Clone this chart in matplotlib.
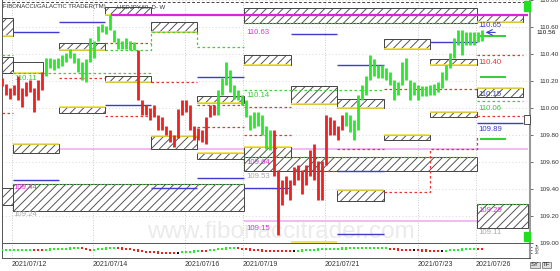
import matplotlib
matplotlib.use('Agg')
import matplotlib.pyplot as plt
from matplotlib.patches import Rectangle

plt.rcParams['font.family'] = ['Liberation Sans', 'DejaVu Sans']
plt.rcParams['hatch.linewidth'] = 0.7
plt.rcParams['hatch.color'] = '#555555'

# ---------------- data ----------------
bar_hi = [110.22, 110.18, 110.15, 110.17, 110.24, 110.15, 110.19, 110.21, 110.15, 110.21, 110.27,
          110.37, 110.37, 110.36, 110.37, 110.39, 110.41, 110.44, 110.41, 110.37, 110.34, 110.36, 110.52,
          110.50, 110.61, 110.62, 110.61, 110.69, 110.58, 110.52, 110.50, 110.52, 110.50, 110.49,
          110.43, 110.06, 110.02, 110.00, 110.02, 109.95, 109.93, 109.87, 109.84, 109.80, 109.99, 110.06,
          110.06, 110.02, 109.87, 109.85, 109.84, 109.93, 110.02, 110.02,
          110.13, 110.22, 110.34, 110.28, 110.17, 110.13, 110.10, 110.06, 109.95, 109.97, 109.97, 109.95,
          109.87, 109.84,
          109.84, 109.54, 109.47, 109.50, 109.47, 109.56, 109.58, 109.54, 109.58, 109.69, 109.73, 109.61,
          109.61, 109.95, 109.93, 109.91, 109.87, 109.95,
          109.97, 109.95, 109.91, 110.10, 110.17, 110.24, 110.39, 110.36, 110.32, 110.32, 110.30, 110.27,
          110.21, 110.19, 110.34, 110.37, 110.21, 110.19, 110.17, 110.16, 110.16, 110.17, 110.18, 110.19,
          110.27, 110.32, 110.41, 110.52, 110.58, 110.58, 110.56, 110.56, 110.56, 110.56, 110.58]
bar_lo = [110.16, 110.10, 110.07, 110.10, 110.06, 110.01, 110.09, 110.12, 109.97, 110.06, 110.13,
          110.24, 110.30, 110.28, 110.30, 110.31, 110.34, 110.37, 110.33, 110.27, 110.21, 110.19, 110.34,
          110.37, 110.50, 110.56, 110.55, 110.58, 110.49, 110.44, 110.44, 110.44, 110.43, 110.43,
          110.06, 109.95, 109.95, 109.91, 109.93, 109.84, 109.84, 109.80, 109.75, 109.71, 109.78, 109.95,
          109.97, 109.84, 109.76, 109.76, 109.75, 109.73, 109.93, 109.95,
          109.95, 110.10, 110.17, 110.12, 110.07, 110.06, 110.02, 109.93, 109.84, 109.85, 109.87, 109.80,
          109.70, 109.69,
          109.50, 109.06, 109.28, 109.36, 109.32, 109.43, 109.47, 109.36, 109.43, 109.50, 109.47, 109.32,
          109.32, 109.58, 109.80, 109.80, 109.76, 109.84,
          109.87, 109.82, 109.76, 109.84, 110.06, 110.10, 110.21, 110.24, 110.22, 110.22, 110.21, 110.17,
          110.06, 110.10, 110.17, 110.21, 110.06, 110.10, 110.06, 110.09, 110.09, 110.10, 110.10, 110.12,
          110.15, 110.21, 110.30, 110.37, 110.47, 110.39, 110.47, 110.47, 110.47, 110.49, 110.50]
trend_runs = [('r', 11), ('g', 23), ('r', 20), ('g', 14), ('r', 18), ('g', 35)]

ind_vals = [50, 50, 50, 50, 50, 50, 50, 50, 50, 50, 50,
            52, 54, 55, 57, 58, 60, 62, 64, 66, 65, 56, 50,
            52, 55, 58, 62, 66, 67, 66, 62, 58, 55, 50,
            45, 40, 36, 33, 30, 28, 27, 26, 25, 25, 26,
            30, 33, 36, 38, 40, 42, 44, 48, 52, 56, 60, 63, 66, 67,
            64, 60, 56, 53, 50, 48, 46, 44, 43, 42, 42, 42, 42, 42, 42,
            44, 46, 48, 50, 51, 53, 55, 57, 58, 59, 60, 62, 63, 64, 65, 65, 66, 66, 67, 67, 67, 67, 66,
            60, 56, 54, 52, 50, 50, 49, 48, 46, 45, 44, 43, 42, 42,
            44, 47, 50, 52, 54, 55, 56, 57, 58, 58]
ind_runs = [('g', 8), ('r', 3), ('g', 9), ('r', 3), ('g', 6), ('r', 15), ('k', 1), ('g', 5), ('r', 2),
            ('g', 7), ('r', 14), ('k', 1), ('g', 23), ('r', 6), ('k', 1), ('r', 6), ('k', 1), ('g', 8),
            ('r', 2)]

date_labels = ['2021/07/12', '2021/07/14', '2021/07/16', '2021/07/19', '2021/07/21', '2021/07/23',
               '2021/07/26']
date_pos = [2.5, 22.75, 45.75, 60.25, 80.75, 104.0, 118.5]
price_ticks = [109.0, 109.2, 109.4, 109.6, 109.8, 110.0, 110.2, 110.4, 110.6, 110.8]
last_price = 110.56

# hatched boxes: x0, x1, top, bottom, accent edge, hatched
box_x0 = [0, 0, 2.75, 14.25, 25.75, 37.25, 25.75, 14.25, 48.75, 60.5, 60.5, 118.75, 95.5, 107,
          72.25, 83.75, 107, 118.75, 95.5, 83.75, 2.75, 37.25, 48.75, 60.5, 60.5, 2.75, 0, 118.75]
box_x1 = [2.75, 2.75, 10.25, 25.75, 37.25, 48.75, 37.25, 25.75, 60.5, 72.25, 118.75, 130.25, 107,
          118.75, 83.75, 95.5, 118.75, 130.25, 107, 95.5, 14.25, 48.75, 60.5, 72.25, 118.75, 60.5,
          2.75, 131.5]
box_top = [110.67, 110.38, 110.34, 110.48, 110.75, 110.64, 110.24, 110.01, 110.09, 110.39, 110.74,
           110.70, 110.51, 110.36, 110.16, 110.07, 109.97, 110.15, 109.80, 109.39, 109.73, 109.79,
           109.67, 109.71, 109.64, 109.44, 109.41, 109.29]
box_bot = [110.53, 110.26, 110.26, 110.43, 110.69, 110.56, 110.19, 109.96, 110.04, 110.32, 110.63,
           110.64, 110.44, 110.32, 110.03, 110.00, 109.93, 110.08, 109.76, 109.31, 109.67, 109.70,
           109.62, 109.64, 109.53, 109.24, 109.28, 109.11]
box_edge = ['bot', '', 'bot', 'bot', 'bot', 'bot', 'bot', 'top', 'bot', 'bot', 'gbot', 'bot', 'bot',
            'bot', 'bot', 'bot', 'top', 'top', 'top', 'top', 'top', 'top', 'top', 'top', 'gtop', 'gtop',
            '', 'gtop']
box_hatch = [True, True, False] + [True] * 25

# horizontal level lines: x0, x1, price
blue_x0 = [2.75, 14.25, 25.75, 48.75, 72.25, 83.75, 107, 118.75, 2.75, 37.25, 48.75, 60.5, 83.75, 83.75]
blue_x1 = [14.25, 25.75, 37.25, 60.5, 83.75, 95.5, 118.75, 130.25, 14.25, 48.75, 60.5, 72.25, 95.5, 95.5]
blue_p = [110.56, 110.64, 110.02, 110.23, 110.55, 110.32, 110.49, 109.89, 109.47, 109.41, 109.48,
          109.41, 109.07, 109.53]
red_x0 = [25.75, 14.25, 0, 25.75, 37.25, 48.75, 48.75, 60.5, 60.5, 95.5, 118.75, 118.75, 83.75, 80.0]
red_x1 = [37.25, 25.75, 2.75, 37.25, 48.75, 60.5, 60.5, 72.25, 72.25, 118.75, 130.25, 130.25, 95.5, 83.75]
red_p = [110.48, 110.22, 109.96, 109.94, 110.19, 110.02, 109.86, 110.01, 109.80, 110.14, 110.39,
         109.94, 109.70, 109.53]
red_step_x = [95.5, 107, 107, 118.75, 118.75]
red_step_p = [109.38, 109.38, 109.70, 109.70, 109.80]
green_x0 = [0, 2.75, 60.5, 118.75]
green_x1 = [2.75, 37.25, 95.5, 130.25]
green_p = [110.39, 110.26, 110.13, 110.05]
green_step_x = [25.75, 37.25, 37.25, 48.75, 48.75, 60.5]
green_step_p = [110.43, 110.43, 110.56, 110.56, 110.45, 110.45]
pink_x0 = [2.75, 60.5]
pink_x1 = [131.5, 118.75]
pink_p = [109.70, 109.16]
magenta_x0, magenta_x1, magenta_p = 27.25, 131.5, 110.69
fc_x0, fc_x1 = 119.5, 126.0
fc_p = [110.53, 110.23, 109.77]
yellow_x0, yellow_x1, yellow_p = 72.25, 83.75, 109.004

# value labels: x, price, text, colour key
lab_x = [61, 61, 3, 61, 61, 61, 2.75, 2.75, 119, 119, 119, 119, 119, 119, 119]
lab_p = [110.556, 110.09, 110.22, 109.60, 109.49, 109.11, 109.41, 109.21, 110.61, 110.34, 110.10,
         110.00, 109.84, 109.24, 109.08]
lab_t = ['110.63', '110.14', '110.11', '109.64', '109.53', '109.15', '109.44', '109.24', '110.65',
         '110.40', '110.15', '110.06', '109.89', '109.29', '109.11']
lab_c = ['m', 'g', 'g', 'm', 'k', 'm', 'm', 'k', 'b', 'r', 'b', 'g', 'b', 'm', 'k']

# ---------------- drawing ----------------
COL = {'g': '#2ae82a', 'r': '#f02020', 'k': '#111111', 'b': '#3a3acc', 'm': '#dd22dd'}
LABCOL = {'g': '#33cc33', 'r': '#ee3333', 'k': '#aaaaaa', 'b': '#3a3acc', 'm': '#dd33dd'}

fig = plt.figure(figsize=(5.6, 2.71), dpi=100)
fig.patch.set_facecolor('white')
ax = fig.add_axes([2 / 560, 1 - 243 / 271, 528 / 560, 243 / 271])
ax2 = fig.add_axes([2 / 560, 1 - 258 / 271, 528 / 560, 15 / 271])

XL = (0, 132)
ax.set_xlim(*XL)
ax.set_ylim(109.0, 110.80)

# grid
for xp in date_pos:
    ax.axvline(xp, color='#bbbbbb', lw=0.6, ls=(0, (1, 2)), zorder=0.5)
    ax2.axvline(xp, color='#bbbbbb', lw=0.6, ls=(0, (1, 2)), zorder=0.5)
for pt in price_ticks:
    ax.axhline(pt, color='#cccccc', lw=0.6, ls=(0, (1, 3)), zorder=0.5)

# watermark
ax.text(69.75, 109.04, 'www.fibonaccitrader.com', ha='center', va='baseline', fontsize=17.5,
        color='#ebebeb', zorder=0.6)

# pink lines (below boxes)
for x0, x1, p in zip(pink_x0, pink_x1, pink_p):
    ax.plot([x0, x1], [p, p], color='#f2a6f2', lw=1.1, zorder=1.5, solid_capstyle='butt')

# boxes
for x0, x1, t, b, e, h in zip(box_x0, box_x1, box_top, box_bot, box_edge, box_hatch):
    ax.add_patch(Rectangle((x0, b), x1 - x0, t - b, facecolor='white', edgecolor='none',
                           lw=0, zorder=2))
    if h:
        ax.add_patch(Rectangle((x0, b), x1 - x0, t - b, facecolor='none', edgecolor='#555555',
                               lw=0.0, hatch='////', zorder=2.05))
    ax.add_patch(Rectangle((x0, b), x1 - x0, t - b, facecolor='none', edgecolor='#444444',
                           lw=0.7, zorder=2.1))
    if e == 'bot':
        ax.plot([x0, x1], [b, b], color='#f2e23a', lw=1.2, zorder=2.2, solid_capstyle='butt')
    elif e == 'top':
        ax.plot([x0, x1], [t, t], color='#f2e23a', lw=1.2, zorder=2.2, solid_capstyle='butt')
    elif e == 'gtop':
        ax.plot([x0, x1], [t, t], color='#44cc44', lw=1.0, ls=(0, (1, 1.5)), zorder=2.2)
    elif e == 'gbot':
        ax.plot([x0, x1], [b, b], color='#44cc44', lw=1.0, ls=(0, (1, 1.5)), zorder=2.2)

# top dashed border
ax.plot([XL[0], XL[1]], [110.785, 110.785], color='#444444', lw=0.7, ls=(0, (3, 2)), zorder=2.3)
ax.plot([yellow_x0, yellow_x1], [yellow_p, yellow_p], color='#f2e23a', lw=1.2, zorder=2.3,
        solid_capstyle='butt')

# lines
for x0, x1, p in zip(blue_x0, blue_x1, blue_p):
    ax.plot([x0, x1], [p, p], color='#3c3cd0', lw=1.0, zorder=3, solid_capstyle='butt')
for x0, x1, p in zip(red_x0, red_x1, red_p):
    ax.plot([x0, x1], [p, p], color='#ee3333', lw=0.9, ls=(0, (2, 2)), zorder=3)
ax.plot(red_step_x, red_step_p, color='#ee3333', lw=0.9, ls=(0, (2, 2)), zorder=3)
for x0, x1, p in zip(green_x0, green_x1, green_p):
    ax.plot([x0, x1], [p, p], color='#44cc44', lw=0.9, ls=(0, (2, 2)), zorder=3)
ax.plot(green_step_x, green_step_p, color='#44cc44', lw=0.9, ls=(0, (2, 2)), zorder=3)
ax.plot([magenta_x0, magenta_x1], [magenta_p, magenta_p], color='#dd22dd', lw=1.6, zorder=3.2,
        solid_capstyle='butt')
for p in fc_p:
    ax.plot([fc_x0, fc_x1], [p, p], color='#22cc22', lw=1.3, zorder=3.2, solid_capstyle='butt')

# labels
for x, p, t, c in zip(lab_x, lab_p, lab_t, lab_c):
    ax.text(x, p, t, color=LABCOL[c], fontsize=5.6, ha='left', va='center', zorder=4)

# candles
cols = []
for c, n in trend_runs:
    cols += [COL[c]] * n
xs = list(range(len(bar_hi)))
ax.vlines(xs, bar_lo, bar_hi, colors=cols, lw=2.0, zorder=6)

# last price arrow
ax.annotate('', xy=(120.2, last_price), xytext=(124.0, last_price),
            arrowprops=dict(arrowstyle='->', color='#3c3cd0', lw=0.8), zorder=7)

# right-edge small markers
ax.add_patch(Rectangle((0.988, 0.955), 0.012, 0.04, transform=ax.transAxes, color='#22dd22',
                       zorder=7, clip_on=False))
ax.add_patch(Rectangle((0.988, 0.01), 0.012, 0.035, transform=ax.transAxes, color='#22dd22',
                       zorder=7, clip_on=False))
ax.add_patch(Rectangle((0.988, 0.49), 0.012, 0.035, transform=ax.transAxes, facecolor='white',
                       edgecolor='#333333', lw=0.6, zorder=7, clip_on=False))

# axis style
ax.yaxis.tick_right()
ax.set_yticks(price_ticks)
ax.set_yticklabels(['%.2f' % v for v in price_ticks])
ax.tick_params(axis='y', labelsize=4.6, colors='#333333', length=2, width=0.5, pad=5)
ax.set_xticks([])
ax.text(1.012, (last_price - 109.0) / 1.8, '%.2f' % last_price, transform=ax.transAxes,
        fontsize=4.6, color='#111111', va='center', ha='left')
for s in ['left', 'bottom']:
    ax.spines[s].set_color('#555555')
    ax.spines[s].set_linewidth(0.7)
ax.spines['right'].set_color('#999999')
ax.spines['right'].set_linewidth(1.5)
ax.spines['top'].set_visible(False)

# indicator panel
ax2.set_xlim(*XL)
ax2.set_ylim(-17, 108)
icols = []
for c, n in ind_runs:
    icols += [COL[c]] * n
ax2.scatter(xs, ind_vals, c=icols, s=2.6, marker='s', linewidths=0, zorder=3)
ax2.yaxis.tick_right()
ax2.set_yticks([25, 50, 75])
ax2.set_yticklabels(['25', '50', '75'])
ax2.tick_params(axis='y', labelsize=3.0, colors='#333333', length=1.5, width=0.5, pad=2)
ax2.set_xticks(date_pos)
ax2.set_xticklabels(date_labels)
for lbl in ax2.get_xticklabels():
    lbl.set_horizontalalignment('left')
ax2.tick_params(axis='x', labelsize=5, colors='#333333', length=0, pad=2.5)
for s in ['left', 'bottom', 'top']:
    ax2.spines[s].set_color('#555555')
    ax2.spines[s].set_linewidth(0.7)
ax2.spines['right'].set_color('#999999')
ax2.spines['right'].set_linewidth(1.5)

# title
fig.text(3 / 560, 1 - 6.5 / 271, 'FIBONACCI/GALACTIC TRADER(TM)', fontsize=4.3, color='#333333',
         va='center', ha='left')
fig.text(117 / 560, 1 - 6.5 / 271, 'USDJPY,60, D- W', fontsize=4.3, color='#333333',
         va='center', ha='left')

# SY / TF buttons
fig.text(531 / 560, 1 - 265 / 271, 'SY', fontsize=4.3, color='#222222', va='center', ha='left',
         bbox=dict(boxstyle='square,pad=0.15', fc='#dddddd', ec='#666666', lw=0.5))
fig.text(543 / 560, 1 - 265 / 271, 'TF', fontsize=4.3, color='#222222', va='center', ha='left',
         bbox=dict(boxstyle='square,pad=0.15', fc='#dddddd', ec='#666666', lw=0.5))

fig.savefig('out.png', dpi=100)
